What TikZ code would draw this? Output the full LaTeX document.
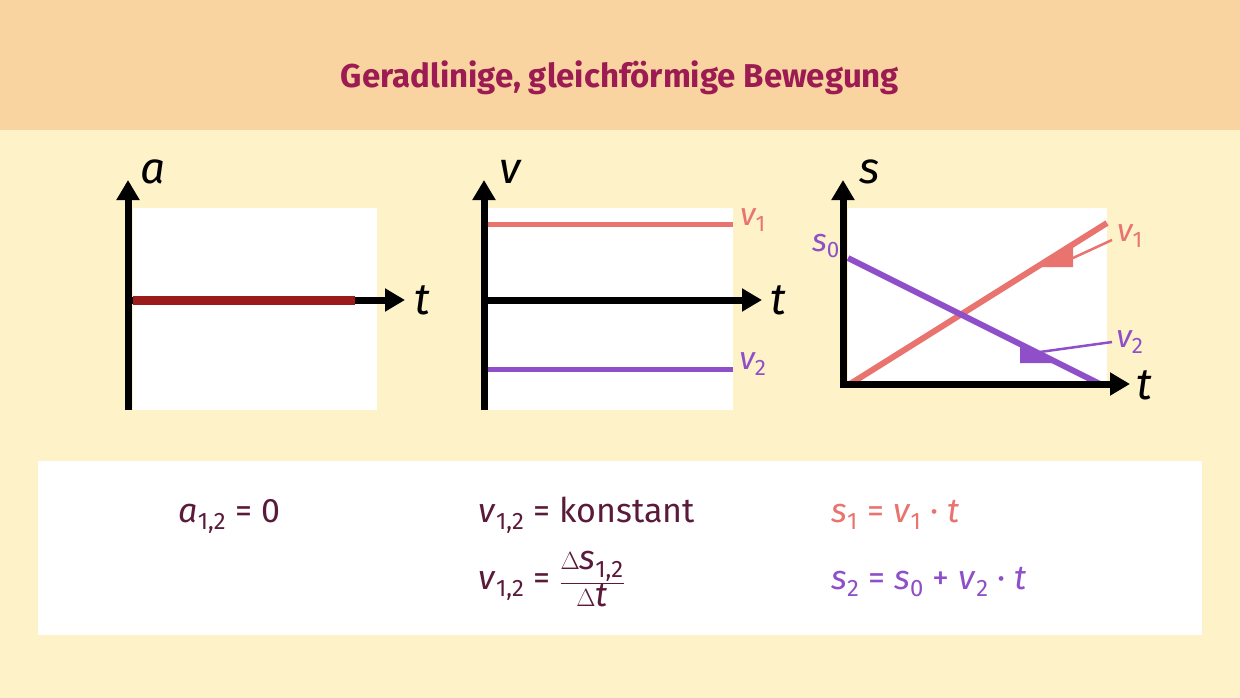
\documentclass[tikz,border=0pt]{standalone}
\usepackage{fontspec}
\setmainfont{Fira Sans}
\usetikzlibrary{arrows.meta}
\definecolor{hdr}{HTML}{F9D3A0}
\definecolor{bg}{HTML}{FDF2C8}
\definecolor{ttl}{HTML}{9B1B52}
\definecolor{pk}{HTML}{E8736F}
\definecolor{pu}{HTML}{8E4FC8}
\definecolor{dr}{HTML}{9B1B1B}
\definecolor{dk}{HTML}{5A1A3A}
\newcommand{\iv}[1]{\textit{#1}}
\begin{document}
\begin{tikzpicture}[x=1pt,y=-1pt,
 axis/.style={line width=7pt,-{Triangle[length=20pt,width=22pt]}},
 lab/.style={font=\fontsize{44}{44}\selectfont\itshape},
 slab/.style={font=\fontsize{32}{32}\selectfont\itshape},
 frm/.style={font=\fontsize{34}{34}\selectfont, anchor=base west}]
\fill[bg] (0,0) rectangle (1240,698);
\fill[hdr] (0,0) rectangle (1240,130);
\node[font=\fontsize{33}{33}\selectfont\bfseries, text=ttl] (title) at (620,78) {Geradlinige, gleichförmige Bewegung};
% graph 1
\fill[white] (133,208) rectangle (377,410);
\coordinate (a0) at (128,410); \coordinate (a1) at (128,180);
\coordinate (b0) at (128,300); \coordinate (b1) at (405,300);
\draw[axis] (a0) -- (a1);
\draw[axis] (b0) -- (b1);
\draw[dr,line width=9pt] (133,300) -- (355,300);
\node[lab] (la) at (153,172) {a};
\node[lab] (lt1) at (422,300) {t};
% graph 2
\fill[white] (488,208) rectangle (733,410);
\draw[pk,line width=5pt] (488,224) -- (733,224);
\draw[pu,line width=5pt] (488,369) -- (733,369);
\coordinate (c0) at (484,410); \coordinate (c1) at (484,180);
\coordinate (d0) at (484,300); \coordinate (d1) at (762,300);
\draw[axis] (c0) -- (c1);
\draw[axis] (d0) -- (d1);
\node[lab] (lv) at (510,172) {v};
\node[lab] (lt2) at (778,300) {t};
\node[slab,text=pk] (v1a) at (753,220) {v\textsubscript{\upshape 1}};
\node[slab,text=pu] (v2a) at (753,364) {v\textsubscript{\upshape 2}};
% graph 3
\fill[white] (848,208) rectangle (1107,385);
\fill[pk] (1038,267) -- (1073,247) -- (1073,267) -- cycle;
\fill[pu] (1020,345) -- (1020,363) -- (1057,363) -- cycle;
\draw[pk,line width=6pt] (850,384) -- (1107,223);
\draw[pu,line width=6pt] (848,258) -- (1100,384);
\draw[pk,line width=2.5pt] (1073,258) -- (1112,240);
\draw[pu,line width=2.5pt] (1040,352) -- (1112,342);
\coordinate (e0) at (843,388); \coordinate (e1) at (843,180);
\coordinate (f0) at (843,384); \coordinate (f1) at (1130,384);
\draw[axis] (e0) -- (e1);
\draw[axis] (f0) -- (f1);
\node[lab] (ls) at (870,172) {s};
\node[lab] (lt3) at (1144,385) {t};
\node[slab,text=pu] (s0) at (826,246) {s\textsubscript{\upshape 0}};
\node[slab,text=pk] (v1b) at (1130,236) {v\textsubscript{\upshape 1}};
\node[slab,text=pu] (v2b) at (1130,342) {v\textsubscript{\upshape 2}};
% formula box
\fill[white] (38,461) rectangle (1202,635);
\node[frm,text=dk] (f1) at (175,522) {\iv{a}\textsubscript{1,2} = 0};
\node[frm,text=dk] (f2) at (475,522) {\iv{v}\textsubscript{1,2} = konstant};
\node[frm,text=dk] (f3) at (475,589) {\iv{v}\textsubscript{1,2} = $\displaystyle\frac{\Delta\mbox{\iv{s}\textsubscript{1,2}}}{\Delta\mbox{\iv{t}}}$};
\node[frm,text=pk] (f4) at (828,522) {\iv{s}\textsubscript{1} = \iv{v}\textsubscript{1} · \iv{t}};
\node[frm,text=pu] (f5) at (828,589) {\iv{s}\textsubscript{2} = \iv{s}\textsubscript{0} + \iv{v}\textsubscript{2} · \iv{t}};
\end{tikzpicture}
\end{document}
